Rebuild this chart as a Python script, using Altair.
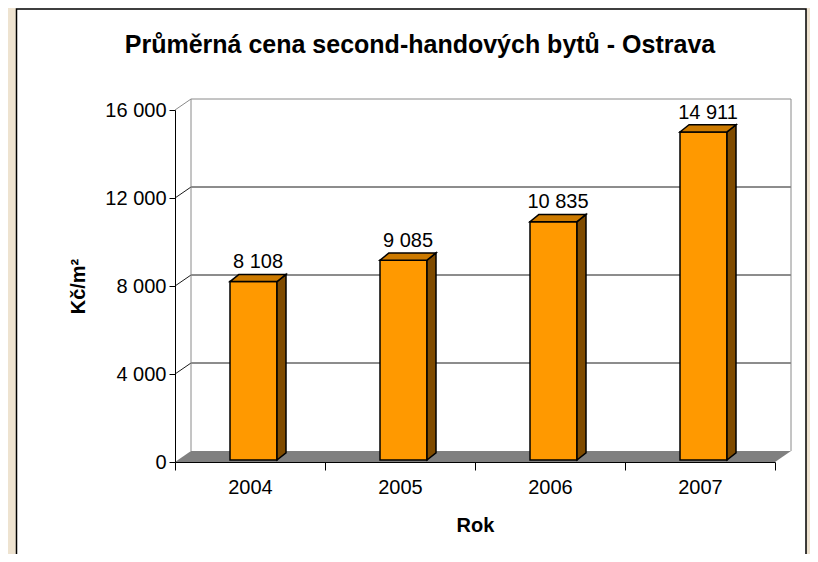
import json
import altair as alt
import pandas as pd

# ---------------- data ----------------
years = ["2004", "2005", "2006", "2007"]
prices = [8108, 9085, 10835, 14911]
y_ticks = [0, 4000, 8000, 12000, 16000]
title_text = "Průměrná cena second-handových bytů - Ostrava"
x_title = "Rok"
y_title = "Kč/m²"

# ---------------- geometry / style ----------------
Y_MAX = 16000
N = len(years)
W, H = 600, 352
PX = N / W          # data units per pixel (x)
PY = Y_MAX / H      # data units per pixel (y)
WALL_DX, WALL_DY = 16, 11       # 3D depth of walls (px)
BAR_HALF = 23.5                 # half width of bar front face (px)
FRONT_DX, FRONT_DY = 3.5, 2.0   # bar front plane shift (px)
BACK_DX, BACK_DY = 12.5, 9.2    # bar back plane shift (px)

FONT = "Liberation Sans"
GRID = "#1a1a1a"
WALLC = "#8a8a8a"
BEIGE = "#EEE3D0"

xs = alt.Scale(domain=[0, N], nice=False, zero=False)
ys = alt.Scale(domain=[0, Y_MAX], nice=False, zero=False)

# ---------------- derived tables ----------------
front_rows, side_rows, top_rows, label_rows = [], [], [], []
for i, (yr, v) in enumerate(zip(years, prices)):
    c = i + 0.5
    xl = c + (FRONT_DX - BAR_HALF) * PX
    xr = c + (FRONT_DX + BAR_HALF) * PX
    d = (BACK_DX - FRONT_DX) * PX
    yb_f = FRONT_DY * PY
    yb_b = BACK_DY * PY
    front_rows.append(dict(year=yr, x=xl, x2=xr, y=yb_f, y2=v + yb_f))
    side_rows.append(dict(year=yr, x=xr, y=yb_f, y2=v + yb_f))
    side_rows.append(dict(year=yr, x=xr + d, y=yb_b, y2=v + yb_b))
    top_rows.append(dict(year=yr, y=v + yb_f, x=xl, x2=xr))
    top_rows.append(dict(year=yr, y=v + yb_b, x=xl + d, x2=xr + d))
    label_rows.append(dict(year=yr, x=c + (FRONT_DX + BACK_DX) / 2 * PX,
                           y=v + yb_b, text=f"{v:,}".replace(",", " ")))

front_df = pd.DataFrame(front_rows)
side_df = pd.DataFrame(side_rows)
top_df = pd.DataFrame(top_rows)
label_df = pd.DataFrame(label_rows)

wx, wy = WALL_DX * PX, WALL_DY * PY
floor_df = pd.DataFrame([
    dict(y=0, x=0, x2=N),
    dict(y=wy, x=wx, x2=N + wx),
])

seg_rows = []
for t in y_ticks[1:]:
    col = WALLC if t == Y_MAX else GRID
    seg_rows.append(dict(x=wx, y=t + wy, x2=N + wx, y2=t + wy, c=col))
    seg_rows.append(dict(x=0, y=t, x2=wx, y2=t + wy, c=col))
seg_rows.append(dict(x=wx, y=wy, x2=wx, y2=Y_MAX + wy, c=WALLC))
seg_rows.append(dict(x=N + wx, y=wy, x2=N + wx, y2=Y_MAX + wy, c=WALLC))
seg_df = pd.DataFrame(seg_rows)

one = pd.DataFrame({"t": [title_text]})

# ---------------- axes (shared by every layer) ----------------
y_label_expr = "replace(format(datum.value, ','), ',', ' ')"
x_label_expr = f"{json.dumps(years)}[datum.value] || ''"

axis_style = dict(
    domainColor="black", tickColor="black", labelColor="black", titleColor="black",
    grid=False, zindex=1, labelFont=FONT, labelFontSize=20, titleFont=FONT,
    titleFontSize=20, titleFontWeight="bold", domainWidth=1, tickWidth=1,
)
x_axis = alt.Axis(
    values=list(range(N + 1)), labelExpr=x_label_expr, labelOffset=W / N / 2,
    labelFlush=False, labelOverlap=False, tickSize=8, labelPadding=7,
    title=x_title, titleX=W / 2, titleY=69, titleAlign="center", titleBaseline="alphabetic",
    **axis_style,
)
y_axis = alt.Axis(
    values=y_ticks, labelExpr=y_label_expr, tickSize=6, labelPadding=3,
    title=y_title, titleAngle=270, titleX=-97, titleY=H / 2,
    titleAlign="center", titleBaseline="middle",
    **axis_style,
)
X = lambda f: alt.X(f, scale=xs, axis=x_axis)
Y = lambda f: alt.Y(f, scale=ys, axis=y_axis)

# ---------------- layers ----------------
left_strip = alt.Chart(one).mark_rect(fill=BEIGE, clip=False).encode(
    x=alt.value(-167), x2=alt.value(-158.5), y=alt.value(-102), y2=alt.value(470)
)
right_strip = alt.Chart(one).mark_rect(fill=BEIGE, clip=False).encode(
    x=alt.value(631), x2=alt.value(660), y=alt.value(-102), y2=alt.value(470)
)
box = alt.Chart(one).mark_rect(fill="transparent", stroke="black", strokeWidth=1.5, clip=False).encode(
    x=alt.value(-158.5), x2=alt.value(631), y=alt.value(-101), y2=alt.value(470)
)

title = alt.Chart(one).mark_text(
    font=FONT, fontSize=25, fontWeight="bold", align="center", baseline="alphabetic", color="black"
).encode(x=alt.value(245), y=alt.value(-57.5), text="t:N")

floor = alt.Chart(floor_df).mark_area(orient="horizontal", color="#808080", clip=False).encode(
    y=Y("y:Q"), x=X("x:Q"), x2="x2:Q",
)

segs = alt.Chart(seg_df).mark_rule(strokeWidth=1, clip=False).encode(
    x=X("x:Q"), y=Y("y:Q"), x2="x2:Q", y2="y2:Q",
    color=alt.Color("c:N", scale=None),
)

front = alt.Chart(front_df).mark_rect(
    fill="#FF9900", stroke="black", strokeWidth=1.5, clip=False
).encode(x=X("x:Q"), x2="x2:Q", y=Y("y:Q"), y2="y2:Q")

side = alt.Chart(side_df).mark_area(
    orient="vertical", fill="#7F4B00", stroke="black", strokeWidth=1.5, clip=False
).encode(x=X("x:Q"), y=Y("y:Q"), y2="y2:Q", detail="year:N")

top = alt.Chart(top_df).mark_area(
    orient="horizontal", fill="#CC7A00", stroke="black", strokeWidth=1.5, clip=False
).encode(y=Y("y:Q"), x=X("x:Q"), x2="x2:Q", detail="year:N")

labels = alt.Chart(label_df).mark_text(
    font=FONT, fontSize=20, align="center", baseline="alphabetic", dy=-6, color="black"
).encode(x=X("x:Q"), y=Y("y:Q"), text="text:N")

chart = alt.layer(
    left_strip, right_strip, box, title, floor, segs, front, side, top, labels
).properties(
    width=W, height=H,
    autosize=alt.AutoSizeParams(type="none"),
    padding={"left": 167, "top": 102, "right": 35, "bottom": 92},
    background="white",
).configure_view(stroke=None)

chart.save("out.html", embed_options={"renderer": "svg", "actions": False})
